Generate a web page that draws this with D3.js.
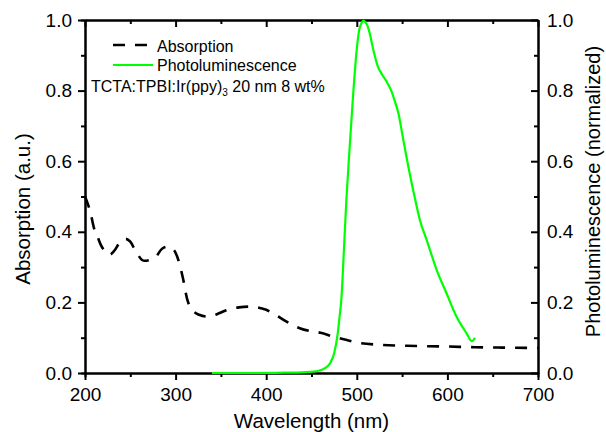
<!DOCTYPE html>
<html>
<head>
<meta charset="utf-8">
<script src="https://cdn.jsdelivr.net/npm/d3@7"></script>
<style>
  body { margin: 0; background: #fff; }
  svg { display: block; font-family: Arial, 'Liberation Sans', sans-serif; }
  .axis path, .axis line { stroke: #000; stroke-width: 2; }
  .axis text { font-size: 19px; fill: #000; }
</style>
</head>
<body>
<div id="chart"></div>
<script>
// absorption spectrum (dashed black), wavelength in nm
const absWavelength = [200, 203, 206, 210, 214, 218, 222, 227, 232, 238, 245, 250, 256, 265, 271, 278,
  285, 292, 298, 304, 308, 313, 318, 326, 335, 345, 356, 370, 381, 392, 400, 410, 422, 437, 450,
  460, 474, 488, 501, 525, 555, 600, 630, 660, 700]
const absValue = [0.50, 0.48, 0.455, 0.41, 0.385, 0.36, 0.345, 0.335, 0.345, 0.368, 0.38, 0.372, 0.345,
  0.318, 0.32, 0.328, 0.352, 0.358, 0.349, 0.312, 0.27, 0.207, 0.18, 0.165, 0.16, 0.166, 0.178, 0.186,
  0.188, 0.185, 0.179, 0.165, 0.146, 0.127, 0.118, 0.114, 0.103, 0.094, 0.086, 0.080, 0.077, 0.075,
  0.073, 0.072, 0.071]

// photoluminescence spectrum (green), normalized
const plWavelength = [340, 380, 420, 440, 455, 462, 468, 471, 475, 479, 481, 483, 486, 488.5, 492, 496,
  499.5, 502.5, 505, 507.5, 510, 512, 514, 518, 523, 528, 533, 538, 542, 546, 551, 558, 565, 570, 577,
  588, 599, 610, 621, 627, 630.5]
const plValue = [0, 0, 0.001, 0.002, 0.005, 0.01, 0.02, 0.03, 0.056, 0.113, 0.16, 0.21, 0.36, 0.49, 0.635,
  0.79, 0.905, 0.97, 0.99, 0.998, 0.992, 0.982, 0.965, 0.918, 0.87, 0.845, 0.825, 0.80, 0.77, 0.735,
  0.665, 0.57, 0.485, 0.43, 0.378, 0.293, 0.226, 0.16, 0.113, 0.09, 0.10]

// ticks
const xMajor = [200, 300, 400, 500, 600, 700]
const xMinor = [250, 350, 450, 550, 650]
const yMajor = [0, 0.2, 0.4, 0.6, 0.8, 1.0]
const yMinor = [0.1, 0.3, 0.5, 0.7, 0.9]

const width = 606
const height = 432

const svg = d3.select('#chart')
  .append('svg')
  .attr('width', width)
  .attr('height', height)

const x = d3.scaleLinear().domain([200, 700]).range([85, 538])
const yLeft = d3.scaleLinear().domain([0, 1]).range([373, 20])
const yRight = d3.scaleLinear().domain([0, 1]).range([373, 20])

const fmt = d3.format('.1f')

// minor ticks first, then major axes on top
svg.append('g').attr('class', 'axis')
  .attr('transform', `translate(0,${yLeft(0)})`)
  .call(d3.axisBottom(x).tickValues(xMinor).tickSize(4).tickFormat(''))
svg.append('g').attr('class', 'axis')
  .attr('transform', `translate(0,${yLeft(1)})`)
  .call(d3.axisTop(x).tickValues(xMinor).tickSizeInner(-4).tickSizeOuter(0).tickFormat(''))
svg.append('g').attr('class', 'axis')
  .attr('transform', `translate(${x(200)},0)`)
  .call(d3.axisLeft(yLeft).tickValues(yMinor).tickSize(4).tickFormat(''))
svg.append('g').attr('class', 'axis')
  .attr('transform', `translate(${x(700)},0)`)
  .call(d3.axisRight(yRight).tickValues(yMinor).tickSizeInner(-4).tickSizeOuter(0).tickFormat(''))

svg.append('g').attr('class', 'axis')
  .attr('transform', `translate(0,${yLeft(0)})`)
  .call(d3.axisBottom(x).tickValues(xMajor).tickSizeInner(7).tickSizeOuter(0).tickPadding(8))
svg.append('g').attr('class', 'axis')
  .attr('transform', `translate(0,${yLeft(1)})`)
  .call(d3.axisTop(x).tickValues(xMajor).tickSizeInner(-7).tickSizeOuter(0).tickFormat(''))
svg.append('g').attr('class', 'axis')
  .attr('transform', `translate(${x(200)},0)`)
  .call(d3.axisLeft(yLeft).tickValues(yMajor).tickSizeInner(7).tickSizeOuter(0).tickPadding(6).tickFormat(fmt))
svg.append('g').attr('class', 'axis')
  .attr('transform', `translate(${x(700)},0)`)
  .call(d3.axisRight(yRight).tickValues(yMajor).tickSizeInner(-7).tickSizeOuter(0).tickPadding(9).tickFormat(fmt))

// curves
const absLine = d3.line()
  .x((d, i) => x(absWavelength[i]))
  .y((d) => yLeft(d))
  .curve(d3.curveMonotoneX)

const plLine = d3.line()
  .x((d, i) => x(plWavelength[i]))
  .y((d) => yRight(d))
  .curve(d3.curveMonotoneX)

svg.append('path')
  .attr('d', plLine(plValue))
  .attr('fill', 'none')
  .attr('stroke', '#00ff00')
  .attr('stroke-width', 2.2)

svg.append('path')
  .attr('d', absLine(absValue))
  .attr('fill', 'none')
  .attr('stroke', '#000')
  .attr('stroke-width', 2.6)
  .attr('stroke-dasharray', '12,10')

// legend
const legend = svg.append('g').style('font-size', '16px')
legend.append('line')
  .attr('x1', 113).attr('x2', 147).attr('y1', 45).attr('y2', 45)
  .attr('stroke', '#000').attr('stroke-width', 2.6).attr('stroke-dasharray', '12,10')
legend.append('text').attr('x', 157).attr('y', 51.5).text('Absorption')
legend.append('line')
  .attr('x1', 113).attr('x2', 153).attr('y1', 65).attr('y2', 65)
  .attr('stroke', '#00ff00').attr('stroke-width', 2.2)
legend.append('text').attr('x', 157).attr('y', 70.5).text('Photoluminescence')

const note = legend.append('text').attr('x', 91).attr('y', 91.5)
note.append('tspan').text('TCTA:TPBI:Ir(ppy)')
note.append('tspan').attr('font-size', '10px').attr('dy', 4).text('3')
note.append('tspan').attr('dy', -4).text(' 20 nm 8 wt%')

// axis titles
svg.append('text')
  .attr('x', 311.5).attr('y', 428)
  .attr('text-anchor', 'middle')
  .style('font-size', '20.5px')
  .text('Wavelength (nm)')

svg.append('text')
  .attr('transform', 'translate(30,209) rotate(-90)')
  .attr('text-anchor', 'middle')
  .style('font-size', '20.5px')
  .text('Absorption (a.u.)')

svg.append('text')
  .attr('transform', 'translate(600,191.5) rotate(-90)')
  .attr('text-anchor', 'middle')
  .style('font-size', '20px')
  .text('Photoluminescence (normalized)')
</script>
</body>
</html>
